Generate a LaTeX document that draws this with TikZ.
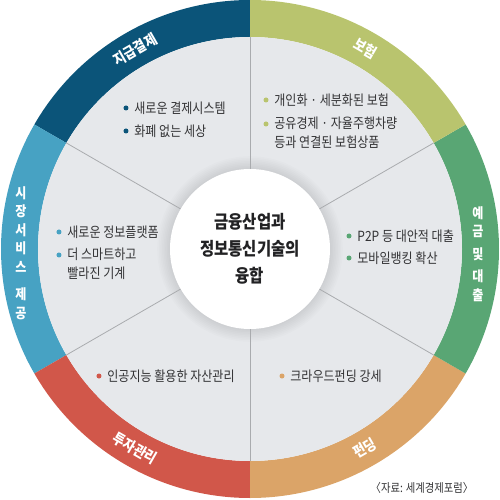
\documentclass[tikz,border=0pt]{standalone}
\usepackage{fontspec}
\setmainfont{Noto Sans CJK KR}[FakeStretch=0.86]
\usepackage{tikz}
\usetikzlibrary{positioning}
\usepackage{xcolor}

\definecolor{paynavy}{HTML}{0B5479}
\definecolor{insolive}{HTML}{B9C46E}
\definecolor{loangreen}{HTML}{59A674}
\definecolor{fundorange}{HTML}{DBA468}
\definecolor{investred}{HTML}{D1574A}
\definecolor{marketblue}{HTML}{47A2C3}
\definecolor{panelgray}{HTML}{E6E8EB}
\definecolor{linegray}{HTML}{A9ABAE}
\definecolor{textgray}{HTML}{333335}
\definecolor{titleblack}{HTML}{222224}

\begin{document}
\begin{tikzpicture}[x=1pt, y=1pt,
		ringlabel/.style={text=white, font=\fontsize{15}{15}\selectfont\bfseries},
		stacklabel/.style={text=white, align=center, font=\fontsize{14}{18.5}\selectfont\bfseries},
		dot/.style={circle, fill=#1, inner sep=0pt, minimum size=5pt},
		item/.style={text=textgray, font=\fontsize{14}{19}\selectfont, inner sep=0pt, align=left},
		divider/.style={draw=linegray, line width=0.8pt}
	]
	\useasboundingbox (-250,-251) rectangle (250,249);

	% outer ring
	\foreach \a/\c in {90/paynavy, 150/marketblue, 210/investred, 270/fundorange, 330/loangreen, 30/insolive}
		\fill[\c] (\a:249) arc[start angle=\a, delta angle=60, radius=249]
			-- ({\a+60}:212) arc[start angle={\a+60}, delta angle=-60, radius=212] -- cycle;

	% inner panel
	\fill[panelgray] (0,0) circle (212);
	\foreach \i in {1,...,8}
		\fill[black, opacity=0.012] (0,0) circle ({80+1.6*\i});
	\foreach \a in {30,90,...,330}
		\draw[divider] (\a:80) -- (\a:212);
	\fill[white] (0,0) circle (80);

	% centre
	\node[align=center, text=titleblack, font=\fontsize{18}{27}\selectfont\bfseries] (title) at (0,0) {금융산업과\\정보통신기술의\\융합};

	% ring labels
	\node[ringlabel, rotate=30] (pay) at (120:230) {지급결제};
	\node[ringlabel, rotate=-30] (ins) at (60:231) {보험};
	\node[ringlabel, rotate=-30] (inv) at (240:230) {투자관리};
	\node[ringlabel, rotate=30] (fund) at (300:230) {펀딩};
	\node[stacklabel] (mkt) at (-229,-4) {시\\장\\서\\비\\스\\[9pt]제\\공};
	\node[stacklabel] (loan) at (228,-5) {예\\금\\[4pt]및\\[4pt]대\\출};

	% items
	\node[dot=paynavy] (pay1) at (-124,141) {};
	\node[item, right=5.5pt of pay1] {새로운 결제시스템};
	\node[dot=paynavy] (pay2) at (-124,118) {};
	\node[item, right=5.5pt of pay2] {화폐 없는 세상};

	\node[dot=insolive] (ins1) at (16,149) {};
	\node[item, right=5.5pt of ins1] {개인화 · 세분화된 보험};
	\node[dot=insolive] (ins2) at (16,125) {};
	\node[item, right=5.5pt of ins2, anchor=north west, yshift=7.5pt] {공유경제 · 자율주행차량\\등과 연결된 보험상품};

	\node[dot=loangreen] (loan1) at (99,13) {};
	\node[item, right=5.5pt of loan1] {P2P 등 대안적 대출};
	\node[dot=loangreen] (loan2) at (99,-9) {};
	\node[item, right=5.5pt of loan2] {모바일뱅킹 확산};

	\node[dot=fundorange] (fund1) at (32,-127) {};
	\node[item, right=5.5pt of fund1] {크라우드펀딩 강세};

	\node[dot=investred] (inv1) at (-151,-127) {};
	\node[item, right=5.5pt of inv1] {인공지능 활용한 자산관리};

	\node[dot=marketblue] (mkt1) at (-191,17) {};
	\node[item, right=5.5pt of mkt1] {새로운 정보플랫폼};
	\node[dot=marketblue] (mkt2) at (-191,-6) {};
	\node[item, right=5.5pt of mkt2, anchor=north west, yshift=7.5pt] {더 스마트하고\\빨라진 기계};

	% source
	\node[text=textgray, font=\fontsize{12}{12}\selectfont] (src) at (172,-239) {〈자료: 세계경제포럼〉};
\end{tikzpicture}
\end{document}
